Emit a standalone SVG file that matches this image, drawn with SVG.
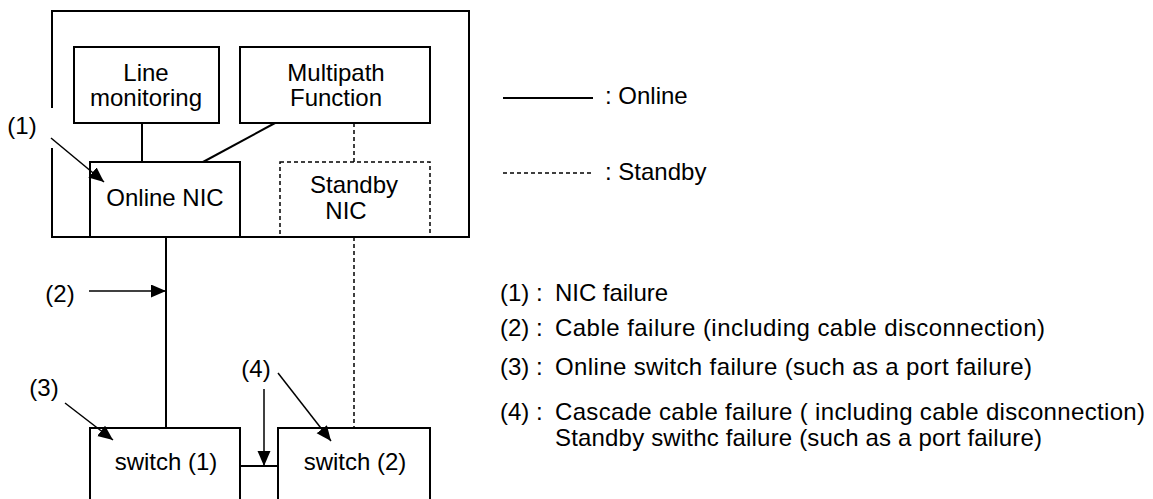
<svg xmlns="http://www.w3.org/2000/svg" width="1153" height="499" viewBox="0 0 1153 499">
  <defs>
    <style>
      text { font-family: "Liberation Sans", Arial, sans-serif; font-size: 24px; fill: #000; }
      .mid { text-anchor: middle; }
      .box { fill: none; stroke: #000; stroke-width: 2; }
      .dbox { fill: none; stroke: #000; stroke-width: 1.5; stroke-dasharray: 4 3; }
      .line { fill: none; stroke: #000; stroke-width: 2; }
      .dash { fill: none; stroke: #000; stroke-width: 1.5; stroke-dasharray: 4 3; }
      .ptr { fill: none; stroke: #000; stroke-width: 1.5; marker-end: url(#head); }
    </style>
    <marker id="head" markerUnits="userSpaceOnUse" markerWidth="16" markerHeight="14" refX="15" refY="6.5" orient="auto">
      <path d="M0,0 L15,6.5 L0,13 z" fill="#000"/>
    </marker>
  </defs>
  <rect width="1153" height="499" fill="#fff"/>

  <g id="system-box">
    <path class="line" d="M52,108 V11 H469 V237 H52 V148"/>
  </g>

  <g id="line-monitoring">
    <rect class="box" x="74" y="47" width="145" height="76"/>
    <text class="mid" x="146" y="81">Line</text>
    <text class="mid" x="146" y="106">monitoring</text>
  </g>

  <g id="multipath-function">
    <rect class="box" x="240" y="47" width="190" height="76"/>
    <text class="mid" x="336" y="81">Multipath</text>
    <text class="mid" x="336" y="106">Function</text>
  </g>

  <g id="online-nic">
    <rect class="box" x="90" y="162" width="150" height="75"/>
    <text class="mid" x="165" y="206">Online NIC</text>
  </g>

  <g id="standby-nic">
    <rect class="dbox" x="280" y="162" width="150" height="75"/>
    <text class="mid" x="354" y="193">Standby</text>
    <text class="mid" x="346" y="219">NIC</text>
  </g>

  <g id="switch-1">
    <rect class="box" x="90" y="428" width="150" height="90"/>
    <text class="mid" x="166" y="470">switch (1)</text>
  </g>

  <g id="switch-2">
    <rect class="box" x="278" y="428" width="152" height="90"/>
    <text class="mid" x="355" y="470">switch (2)</text>
  </g>

  <g id="connectors">
    <path class="line" d="M142,123 V162"/>
    <path class="line" d="M275,123 L203,162"/>
    <path class="dash" d="M354,123 V162"/>
    <path class="line" d="M166,237 V428"/>
    <path class="dash" d="M354,237 V428"/>
    <path class="line" d="M240,466 H278"/>
  </g>

  <g id="failure-pointers">
    <text class="mid" x="22" y="134">(1)</text>
    <path class="ptr" d="M51,138 L104,182"/>
    <text class="mid" x="60" y="302">(2)</text>
    <path class="ptr" d="M89,291 L166,291"/>
    <text class="mid" x="44" y="396">(3)</text>
    <path class="ptr" d="M65,403 L113,440"/>
    <text class="mid" x="256" y="377">(4)</text>
    <path class="ptr" d="M264,389 V466"/>
    <path class="ptr" d="M278,373 L331,441"/>
  </g>

  <g id="legend">
    <path class="line" d="M503,98 H593"/>
    <text x="605" y="104">: Online</text>
    <path class="dash" d="M503,173 H593"/>
    <text x="605" y="180">: Standby</text>
  </g>

  <g id="failure-list">
    <text x="500" y="301">(1) :</text>
    <text x="555" y="301" textLength="113">NIC failure</text>
    <text x="500" y="336">(2) :</text>
    <text x="555" y="336" textLength="490">Cable failure (including cable disconnection)</text>
    <text x="500" y="375">(3) :</text>
    <text x="555" y="375" textLength="477">Online switch failure (such as a port failure)</text>
    <text x="500" y="420">(4) :</text>
    <text x="555" y="420" textLength="590">Cascade cable failure ( including cable disconnection)</text>
    <text x="555" y="446" textLength="487">Standby swithc failure (such as a port failure)</text>
  </g>
</svg>
